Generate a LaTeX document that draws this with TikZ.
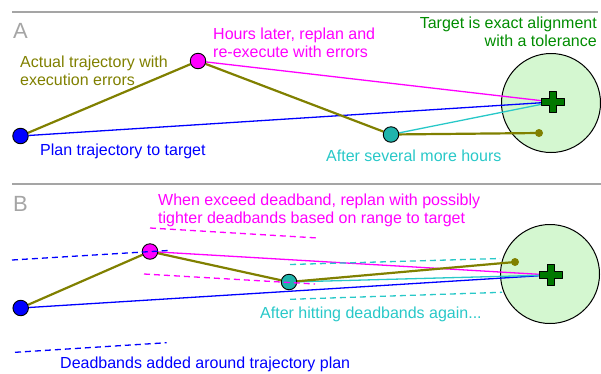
\documentclass[tikz,border=0pt]{standalone}
\usepackage{fontspec}
\setmainfont{Liberation Sans}
\usetikzlibrary{positioning}
\definecolor{trjolive}{RGB}{128,128,0}
\definecolor{trjmag}{RGB}{255,0,255}
\definecolor{trjblue}{RGB}{0,0,255}
\definecolor{trjcyan}{RGB}{40,200,200}
\definecolor{dotteal}{RGB}{32,180,172}
\definecolor{txtgreen}{RGB}{0,140,0}
\definecolor{crossgreen}{RGB}{0,120,0}
\definecolor{tolfill}{RGB}{212,247,208}
\definecolor{panelgray}{RGB}{165,165,165}
\pgfdeclarelayer{back}
\pgfdeclarelayer{mid}
\pgfsetlayers{back,mid,main}
\tikzset{
  dot/.style={circle, draw=black, line width=0.9pt, minimum size=15.5pt, inner sep=0pt},
  enddot/.style={circle, fill=trjolive, minimum size=8pt, inner sep=0pt},
  tol/.style={circle, draw=black, line width=1pt, fill=tolfill, minimum size=99pt, inner sep=0pt},
  actual/.style={trjolive, line width=2.2pt},
  thin/.style={line width=1.3pt},
  band/.style={line width=1.3pt, dash pattern=on 6pt off 4pt},
  lbl/.style={font=\fontsize{16}{18}\selectfont, inner sep=0pt},
  panel/.style={font=\fontsize{22}{24}\selectfont, text=panelgray, inner sep=0pt},
  rule/.style={draw=panelgray, line width=1.5pt},
  plus/.pic={
    \draw[fill=crossgreen, line width=1pt, line join=round]
      (-11.5,-3.5) -- (-3.5,-3.5) -- (-3.5,-10.5) -- (3.5,-10.5) -- (3.5,-3.5)
      -- (11.5,-3.5) -- (11.5,3.5) -- (3.5,3.5) -- (3.5,10.5) -- (-3.5,10.5)
      -- (-3.5,3.5) -- (-11.5,3.5) -- cycle;
  }
}

\begin{document}
\begin{tikzpicture}[x=1pt, y=-1pt]
  \useasboundingbox (0,0) rectangle (601,373);

  % Frame rules
  \draw[rule] (12,12) -- (598,12);
  \draw[rule] (12,184) -- (601,184);

  % Panel A
  \node[panel, anchor=base west] (labA) at (13,38) {A};
  \begin{pgfonlayer}{back}
    \node[tol] (tolA) at (551,103) {};
  \end{pgfonlayer}
  \coordinate (tgtA) at (553,102);
  \node[dot, fill=trjblue] (startA) at (20.5,136) {};
  \node[dot, fill=trjmag] (replanA) at (198,61) {};
  \node[dot, fill=dotteal] (laterA) at (391,134.5) {};
  \node[enddot] (endA) at (539,133) {};
  \begin{pgfonlayer}{mid}
    \draw[thin, trjblue] (startA) -- (tgtA);
    \draw[thin, trjmag] (replanA) -- (tgtA);
    \draw[thin, trjcyan] (laterA) -- (tgtA);
    \draw[actual] (startA) -- (replanA) -- (laterA) -- (endA.center);
  \end{pgfonlayer}
  \pic at (tgtA) {plus};

  \node[lbl, text=trjolive, anchor=west, align=left] (actA) at (20,71)
    {Actual trajectory with\\execution errors};
  \node[lbl, text=trjmag, anchor=west, align=left] (hoursA) at (213,43)
    {Hours later, replan and\\re-execute with errors};
  \node[lbl, text=trjblue, anchor=base west] (planA) at (40,155)
    {Plan trajectory to target};
  \node[lbl, text=txtgreen, anchor=east, align=right] (tgtlabA) at (597,32)
    {Target is exact alignment\\with a tolerance};
  \node[lbl, text=trjcyan, anchor=base west] (moreA) at (326,161)
    {After several more hours};

  % Panel B
  \node[panel, anchor=base west] (labB) at (13,211) {B};
  \begin{pgfonlayer}{back}
    \node[tol] (tolB) at (550,274) {};
  \end{pgfonlayer}
  \coordinate (tgtB) at (551,275);
  \node[dot, fill=trjblue] (startB) at (20.7,308) {};
  \node[dot, fill=trjmag] (replanB) at (150,251.5) {};
  \node[dot, fill=dotteal] (laterB) at (289,282) {};
  \node[enddot] (endB) at (515,262) {};
  \begin{pgfonlayer}{mid}
    \draw[thin, trjblue] (startB) -- (tgtB);
    \draw[thin, trjmag] (replanB) -- (tgtB);
    \draw[thin, trjcyan] (laterB) -- (tgtB);
    \draw[actual] (startB) -- (replanB) -- (laterB) -- (endB.center);
  \end{pgfonlayer}
  \pic at (tgtB) {plus};

  % Deadbands
  \draw[band, trjblue] (12,260) -- (168,250.5);
  \draw[band, trjblue] (15,352.3) -- (166.7,342.7);
  \draw[band, trjmag] (150,228) -- (318,238);
  \draw[band, trjmag] (144,274) -- (315,284);
  \draw[band, trjcyan] (290,264.5) -- (500,258.5);
  \draw[band, trjcyan] (290,299.3) -- (502,292.3);

  \node[lbl, text=trjmag, anchor=west, align=left] (exceedB) at (158,210)
    {When exceed deadband, replan with possibly\\tighter deadbands based on range to target};
  \node[lbl, text=trjcyan, anchor=base west] (hitB) at (260,318)
    {After hitting deadbands again...};
  \node[lbl, text=trjblue, anchor=base west] (addB) at (60,368)
    {Deadbands added around trajectory plan};
\end{tikzpicture}
\end{document}
